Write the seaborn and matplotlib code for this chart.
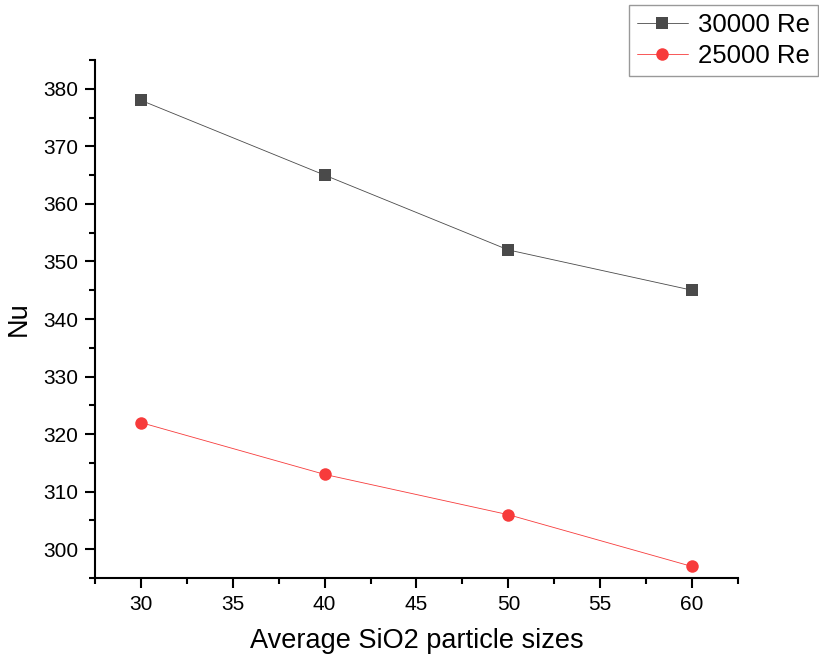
import matplotlib
matplotlib.use("Agg")
import matplotlib.pyplot as plt
import seaborn as sns
import pandas as pd
from matplotlib.ticker import MultipleLocator
from matplotlib.lines import Line2D

sizes = [30, 40, 50, 60]
nu_30000 = [378, 365, 352, 345]
nu_25000 = [322, 313, 306, 297]
series_names = ["30000 Re", "25000 Re"]

sns.set_theme(style="ticks")
plt.rcParams['font.family'] = ['Liberation Sans', 'DejaVu Sans']
plt.rcParams['text.color'] = 'black'
plt.rcParams['axes.labelcolor'] = 'black'

df = pd.DataFrame({
    "size": sizes * 2,
    "Nu": nu_30000 + nu_25000,
    "series": [series_names[0]] * 4 + [series_names[1]] * 4,
})

gray = "#4a4a4a"
red = "#f73b3b"

fig = plt.figure(figsize=(8.19, 6.61), dpi=100)
ax = fig.add_axes([95/819, 1 - 578/661, (738 - 95)/819, (578 - 60)/661])

sns.lineplot(data=df, x="size", y="Nu", hue="series", style="series",
             palette={series_names[0]: gray, series_names[1]: red},
             markers={series_names[0]: "s", series_names[1]: "o"},
             dashes=False, markersize=9, linewidth=0.6, markeredgewidth=0,
             ax=ax, legend=False)

ax.set_xlim(27.5, 62.5)
ax.set_ylim(295, 385)
ax.xaxis.set_major_locator(MultipleLocator(5))
ax.xaxis.set_minor_locator(MultipleLocator(2.5))
ax.yaxis.set_major_locator(MultipleLocator(10))
ax.yaxis.set_minor_locator(MultipleLocator(5))
ax.tick_params(which="major", length=7, width=1.5, labelsize=15, colors="black", labelcolor="black")
ax.tick_params(axis="x", which="major", pad=5)
ax.tick_params(axis="y", which="major", pad=5)
ax.tick_params(which="minor", length=4, width=1.5, colors="black")
for s in ["top", "right"]:
    ax.spines[s].set_visible(False)
for s in ["left", "bottom"]:
    ax.spines[s].set_linewidth(1.5)
    ax.spines[s].set_color("black")

ax.set_xlabel("Average SiO2 particle sizes", fontsize=19.5, labelpad=10, color="black")
ax.set_ylabel("Nu", fontsize=19.5, labelpad=8, color="black")

handles = [
    Line2D([], [], color=gray, marker="s", markersize=9, linewidth=0.6, markeredgewidth=0),
    Line2D([], [], color=red, marker="o", markersize=9, linewidth=0.6, markeredgewidth=0),
]
leg = fig.legend(handles, series_names, loc="upper right",
                 bbox_to_anchor=(818/819, 1 - 5/661), fontsize=18.5,
                 frameon=True, fancybox=False, edgecolor="#808080",
                 handlelength=2.0, borderpad=0.3, labelspacing=0.3,
                 handletextpad=0.4, borderaxespad=0, labelcolor="black")
leg.get_frame().set_linewidth(1.0)

fig.savefig("out.png", dpi=100)
